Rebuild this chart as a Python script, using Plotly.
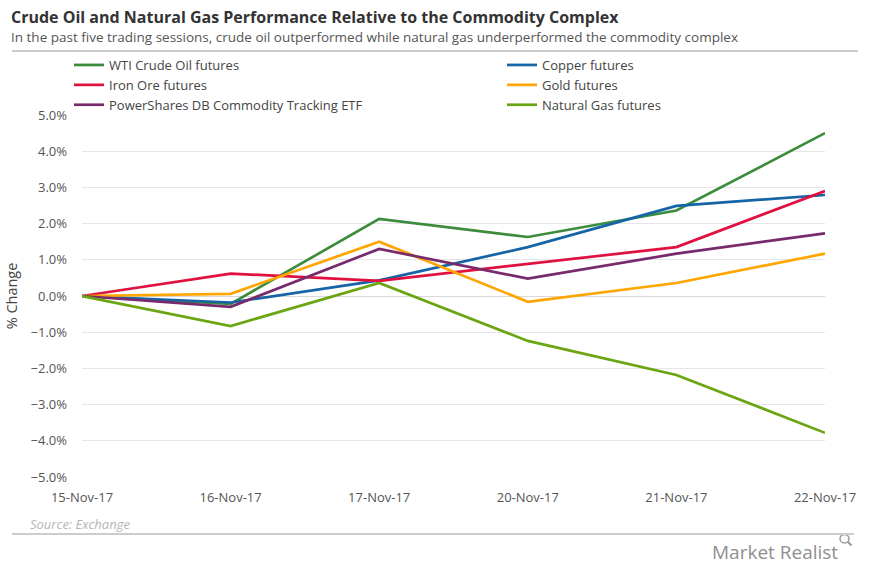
import plotly.graph_objects as go

dates = ["15-Nov-17", "16-Nov-17", "17-Nov-17", "20-Nov-17", "21-Nov-17", "22-Nov-17"]
wti = [0.0, -0.22, 2.13, 1.63, 2.36, 4.50]
copper = [0.0, -0.18, 0.43, 1.35, 2.49, 2.79]
iron_ore = [0.0, 0.62, 0.42, 0.88, 1.35, 2.90]
gold = [0.0, 0.06, 1.50, -0.16, 0.36, 1.17]
dbc = [0.0, -0.30, 1.30, 0.48, 1.17, 1.73]
natgas = [0.0, -0.83, 0.36, -1.24, -2.18, -3.78]

series = [
    ("WTI Crude Oil futures", wti, "#3d8b3d", "legend"),
    ("Copper futures", copper, "#1565a6", "legend2"),
    ("Iron Ore futures", iron_ore, "#e0103f", "legend"),
    ("Gold futures", gold, "#ffa500", "legend2"),
    ("PowerShares DB Commodity Tracking ETF", dbc, "#772a6c", "legend"),
    ("Natural Gas futures", natgas, "#6aa512", "legend2"),
]

FONT = "Open Sans"
W, H = 870, 566
L, R, T, B = 82, 45, 115, 89
PW, PH = W - L - R, H - T - B


def px(x):
    return (x - L) / PW


def py(y):
    return (H - B - y) / PH


fig = go.Figure()
for name, vals, col, lg in series:
    fig.add_trace(go.Scatter(x=dates, y=vals, name=name, mode="lines", legend=lg,
                             line=dict(color=col, width=2.7)))

# small tick marks on the zero line at each category
for d in dates:
    fig.add_shape(type="line", xref="x", yref="y", x0=d, x1=d, y0=0, y1=-0.2,
                  line=dict(color="#d0d0d0", width=1), layer="below")

legend_common = dict(orientation="v", xanchor="left", yanchor="top", itemwidth=30,
                     font=dict(family=FONT, size=13, color="#444444"),
                     tracegroupgap=0, bgcolor="rgba(0,0,0,0)", borderwidth=0)

fig.update_layout(
    width=W, height=H,
    margin=dict(l=L, r=R, t=T, b=B),
    paper_bgcolor="white", plot_bgcolor="white",
    font=dict(family=FONT, color="#555555", size=13),
    showlegend=True,
    legend=dict(x=px(69), y=py(50), **legend_common),
    legend2=dict(x=px(502), y=py(50), **legend_common),
    xaxis=dict(type="category", range=[0, 5], showgrid=False, zeroline=False,
               showline=False, ticks="", ticklabelstandoff=11, automargin=False,
               tickfont=dict(size=13, color="#555555")),
    yaxis=dict(range=[-5, 5], dtick=1, tickformat=".1f", ticksuffix="%",
               showgrid=True, gridcolor="#e6e6e6", gridwidth=1,
               zeroline=True, zerolinecolor="#d9d9d9", zerolinewidth=1,
               automargin=False,
               tickfont=dict(size=13, color="#555555"), ticklabelstandoff=14,
               title=dict(text="% Change", font=dict(size=14.5, color="#444444"), standoff=9)),
    shapes=[
        dict(type="line", xref="paper", yref="paper", x0=px(12), x1=px(858),
             y0=py(51), y1=py(51), line=dict(color="#cccccc", width=2)),
        dict(type="line", xref="paper", yref="paper", x0=px(12), x1=px(854),
             y0=py(534), y1=py(534), line=dict(color="#cccccc", width=2)),
        # Market Realist magnifier icon
        dict(type="circle", xref="paper", yref="paper", x0=px(840), x1=px(849),
             y0=py(543), y1=py(534.5), line=dict(color="#9a9a9a", width=1.5)),
        dict(type="line", xref="paper", yref="paper", x0=px(847.5), x1=px(851.5),
             y0=py(541.5), y1=py(545.5), line=dict(color="#9a9a9a", width=2)),
    ],
    annotations=[
        dict(text="<b>Crude Oil and Natural Gas Performance Relative to the Commodity Complex</b>",
             xref="paper", yref="paper", x=px(9), y=py(17),
             xanchor="left", yanchor="middle", showarrow=False,
             font=dict(family=FONT, size=16, color="#333333")),
        dict(text="In the past five trading sessions, crude oil outperformed while natural gas underperformed the commodity complex",
             xref="paper", yref="paper", x=px(9), y=py(37),
             xanchor="left", yanchor="middle", showarrow=False,
             font=dict(family=FONT, size=13.5, color="#555555")),
        dict(text="<i>Source: Exchange</i>",
             xref="paper", yref="paper", x=px(28), y=py(524),
             xanchor="left", yanchor="middle", showarrow=False,
             font=dict(family=FONT, size=13, color="#b5b5b5")),
        dict(text="Market Realist",
             xref="paper", yref="paper", x=px(840), y=py(552),
             xanchor="right", yanchor="middle", showarrow=False,
             font=dict(family=FONT, size=19, color="#8f8f8f")),
    ],
)

fig.write_html("out.html", config={"displayModeBar": False},
               post_script="document.body.style.margin='0';document.body.style.padding='0';")
